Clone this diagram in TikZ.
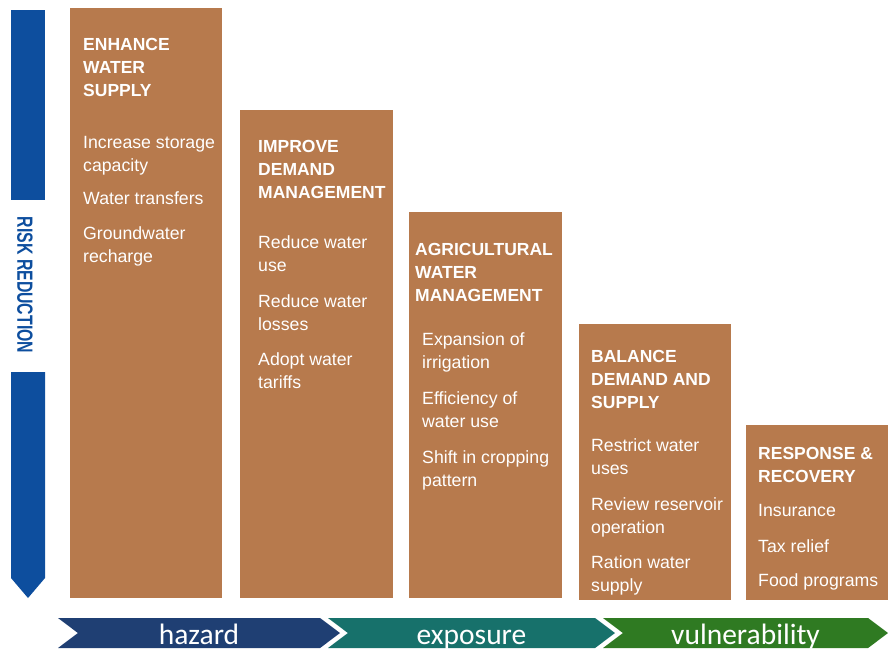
\documentclass[tikz,border=0pt]{standalone}
\usepackage{fontspec}
\setmainfont{Liberation Sans}
\newfontfamily\stagefont{Carlito}
\usetikzlibrary{shapes.symbols}

\definecolor{clay}{HTML}{B77A4D}
\definecolor{riskblue}{HTML}{0D4E9E}
\definecolor{hazardnavy}{HTML}{1F3F73}
\definecolor{exposureteal}{HTML}{17716B}
\definecolor{vulngreen}{HTML}{2F7A22}

\begin{document}
\begin{tikzpicture}[x=1pt,y=-1pt,
  col/.style={fill=clay,draw=none,inner sep=0pt,anchor=north west},
  head/.style={text=white,font=\fontsize{17.5}{23}\selectfont\bfseries,
    align=left,anchor=north west,inner sep=0pt},
  item/.style={text=white,font=\fontsize{17.7}{23}\selectfont,
    align=left,anchor=north west,inner sep=0pt},
  stage/.style={signal,signal from=west,signal to=east,
    signal pointer angle=74,minimum height=30pt,inner sep=0pt,
    text=white,font=\stagefont\fontsize{29.5}{29.5}\selectfont,
    text height=23pt,text depth=0pt}]

  \useasboundingbox (0,0) rectangle (888,649);

  % risk reduction arrow
  \fill[riskblue] (11,10) rectangle (45,200);
  \fill[riskblue] (11,372) -- (45,372) -- (45,578) -- (28,598) -- (11,578) -- cycle;
  \node[rotate=-90,text=riskblue,inner sep=0pt] (risk) at (25,285)
    {\scalebox{0.72}[1]{\fontsize{22}{22}\selectfont\bfseries RISK REDUCTION}};

  % measures
  \node[col,minimum width=152pt,minimum height=590pt] (supply) at (70,8) {};
  \node[head] (supplyh) at ([xshift=13pt,yshift=-30pt]supply.north west)
    {ENHANCE\\WATER\\SUPPLY};
  \node[item] (supplyi) at ([xshift=13pt,yshift=-128pt]supply.north west)
    {Increase storage\\capacity\\[10pt]Water transfers\\[12pt]Groundwater\\recharge};

  \node[col,minimum width=153pt,minimum height=488pt] (demand) at (240,110) {};
  \node[head] (demandh) at ([xshift=18pt,yshift=-30pt]demand.north west)
    {IMPROVE\\DEMAND\\MANAGEMENT};
  \node[item] (demandi) at ([xshift=18pt,yshift=-125pt]demand.north west)
    {Reduce water\\use\\[13pt]Reduce water\\losses\\[12pt]Adopt water\\tariffs};

  \node[col,minimum width=153pt,minimum height=386pt] (agri) at (409,212) {};
  \node[head] (agrih) at ([xshift=6pt,yshift=-31pt]agri.north west)
    {AGRICULTURAL\\WATER\\MANAGEMENT};
  \node[item] (agrii) at ([xshift=13pt,yshift=-120pt]agri.north west)
    {Expansion of\\irrigation\\[13pt]Efficiency of\\water use\\[13pt]Shift in cropping\\pattern};

  \node[col,minimum width=152pt,minimum height=276pt] (balance) at (579,324) {};
  \node[head] (balanceh) at ([xshift=12pt,yshift=-26pt]balance.north west)
    {BALANCE\\DEMAND AND\\SUPPLY};
  \node[item] (balancei) at ([xshift=12pt,yshift=-114pt]balance.north west)
    {Restrict water\\uses\\[13pt]Review reservoir\\operation\\[12pt]Ration water\\supply};

  \node[col,minimum width=142pt,minimum height=175pt] (response) at (746,425) {};
  \node[head] (responseh) at ([xshift=12pt,yshift=-22pt]response.north west)
    {RESPONSE \&\\RECOVERY};
  \node[item] (responsei) at ([xshift=12pt,yshift=-79pt]response.north west)
    {Insurance\\[13pt]Tax relief\\[11pt]Food programs};

  % stages
  \node[stage,fill=hazardnavy,minimum width=282pt] (hazard) at (199,633) {hazard};
  \node[stage,fill=exposureteal,minimum width=287pt] (exposure) at (471.5,633) {exposure};
  \node[stage,fill=vulngreen,minimum width=285pt] (vuln) at (745.5,633) {vulnerability};
\end{tikzpicture}
\end{document}
